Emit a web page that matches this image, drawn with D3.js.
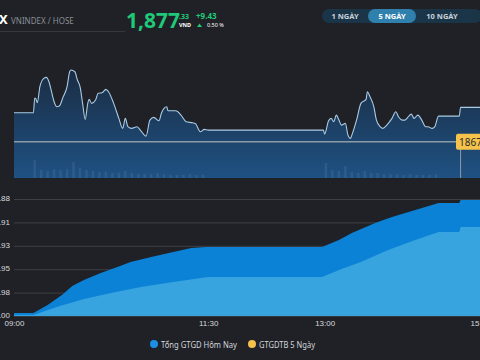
<!DOCTYPE html>
<html>
<head>
<meta charset="utf-8">
<script src="https://cdn.jsdelivr.net/npm/d3@7"></script>
<style>
  html, body { margin: 0; padding: 0; background: #1f2126; }
  svg { display: block; font-family: "Noto Sans", "Open Sans", sans-serif; }
</style>
</head>
<body>
<div id="chart"></div>
<script>
// price line (top chart)
var priceTimes = ["09:00","09:15","09:16","09:17","09:18","09:20","09:23","09:25","09:27","09:29","09:31","09:33","09:35","09:38","09:41","09:43","09:44","09:47","09:49","09:51","09:53","09:55","09:57","09:58","10:00","10:03","10:05","10:08","10:11","10:13","10:17","10:21","10:24","10:26","10:28","10:31","10:35","10:38","10:42","10:45","10:48","10:52","10:54","10:58","10:59","11:05","11:09","11:13","11:18","11:20","11:24","11:27","11:30","12:59","13:00","13:03","13:05","13:07","13:09","13:11","13:13","13:16","13:18","13:20","13:21","13:25","13:28","13:32","13:33","13:35","13:38","13:40","13:43","13:45","13:48","13:52","13:55","13:57","14:00","14:02","14:05","14:07","14:09","14:12","14:15","14:18","14:20","14:23","14:25","14:28","14:44","14:45","15:00"];
var priceValues = [1875.85,1875.85,1879.88,1879.60,1878.59,1882.98,1885.28,1885.55,1884.35,1881.61,1878.86,1877.49,1877.69,1880.23,1882.98,1887.09,1887.55,1887.09,1884.81,1882.98,1878.43,1874.04,1878.43,1879.52,1878.43,1879.33,1881.17,1881.33,1882.26,1881.61,1878.43,1874.31,1871.57,1874.31,1872.07,1871.57,1872.01,1870.92,1869.46,1873.85,1874.59,1873.66,1875.85,1877.49,1876.40,1876.40,1875.22,1873.38,1873.11,1872.94,1870.64,1871.30,1871.11,1871.11,1870.01,1873.66,1874.31,1873.38,1875.22,1873.85,1872.48,1872.94,1869.74,1868.83,1869.74,1874.31,1878.43,1879.52,1881.61,1880.23,1877.49,1873.85,1872.01,1871.57,1872.48,1874.31,1876.12,1874.75,1873.85,1873.85,1874.94,1875.49,1874.31,1875.22,1873.85,1872.01,1872.01,1871.57,1872.01,1874.94,1874.94,1877.33,1877.33];
var refPrice = 1867.9;

// volume bars (5 minute bins)
var volTimes = ["09:15","09:20","09:25","09:30","09:35","09:40","09:45","09:50","09:55","10:00","10:05","10:10","10:15","10:20","10:25","10:30","10:35","10:40","10:45","10:50","10:55","11:00","11:05","11:10","11:15","11:20","11:25","13:00","13:05","13:10","13:15","13:20","13:25","13:30","13:35","13:40","13:45","13:50","13:55","14:00","14:05","14:10","14:15","14:20","14:25"];
var volValues = [18,8,7,9,8,9,16,10,8,7,6,6,5,5,7,5,4,4,4,5,4,3,3,3,4,3,3,15,8,7,12,6,5,7,5,5,4,4,4,3,4,3,3,3,4];

// cumulative trading value (bottom chart), in grid units
var todayTimes = ["09:00","09:15","09:26","09:37","09:45","09:54","10:07","10:22","10:30","10:46","11:03","11:17","11:28","11:30","12:58","13:11","13:21","13:39","13:52","14:10","14:28","14:44","14:45","15:00"];
var todayValues = [0.13,0.13,0.47,0.90,1.28,1.54,1.84,2.14,2.31,2.52,2.74,2.91,2.95,2.95,2.95,3.25,3.55,3.97,4.23,4.53,4.83,4.83,4.96,4.96];
var avgTimes = ["09:00","09:15","09:33","09:54","10:15","10:38","11:03","11:30","12:58","13:13","13:28","13:49","14:10","14:28","14:44","14:45","15:00"];
var avgValues = [0.04,0.04,0.38,0.73,0.98,1.24,1.45,1.67,1.67,2.01,2.31,2.82,3.25,3.59,3.59,3.80,3.80];

var yTickValues = [0, 1, 2, 3, 4, 5];
var yTickLabels = [".00", ".98", ".95", ".93", ".91", ".88"];
var xTickLabels = ["09:00", "11:30", "13:00", "15:00"];

var rangeButtons = ["1 NGÀY", "5 NGÀY", "10 NGÀY"];
var legendNames = ["Tổng GTGD Hôm Nay", "GTGDTB 5 Ngày"];
var legendColors = ["#1a8fe3", "#f4bf4f"];

var W = 480, H = 360;
var parse = d3.timeParse("%H:%M");

var svg = d3.select("#chart").append("svg")
    .attr("width", W).attr("height", H);

svg.append("rect").attr("width", W).attr("height", H).attr("fill", "#1f2126");

// ---- header ----
svg.append("text").attr("x", -1).attr("y", 24)
    .attr("fill", "#fff").style("font-size", "13px").style("font-weight", "bold").text("X");
svg.append("text").attr("x", 11).attr("y", 24)
    .attr("fill", "#8a8f98").style("font-size", "8px").text("VNINDEX / HOSE");
svg.append("line").attr("x1", 0).attr("x2", 125).attr("y1", 31.5).attr("y2", 31.5)
    .attr("stroke", "#34373d").attr("stroke-width", 1);

var green = "#20c979";
svg.append("text").attr("x", 126).attr("y", 28)
    .attr("fill", green).style("font-size", "21px").style("font-weight", "bold").text("1,877");
svg.append("text").attr("x", 179).attr("y", 19)
    .attr("fill", green).style("font-size", "7px").style("font-weight", "bold").text(".33");
svg.append("text").attr("x", 179).attr("y", 27)
    .attr("fill", "#fff").style("font-size", "5.5px").style("font-weight", "bold").text("VND");
svg.append("text").attr("x", 196).attr("y", 19)
    .attr("fill", green).style("font-size", "8px").style("font-weight", "bold").text("+9.43");
svg.append("path").attr("d", "M197,27 L199.5,23.5 L202,27 Z").attr("fill", green);
svg.append("text").attr("x", 207).attr("y", 27)
    .attr("fill", "#fff").style("font-size", "5.5px").text("0.50 %");

// range buttons
svg.append("rect").attr("x", 322).attr("y", 9).attr("width", 160).attr("height", 14)
    .attr("rx", 7).attr("fill", "#1b3548");
var btnX = d3.scalePoint().domain(rangeButtons).range([345, 442]);
svg.append("rect").attr("x", 368).attr("y", 9).attr("width", 48).attr("height", 14)
    .attr("rx", 7).attr("fill", "#2f80ad");
svg.selectAll("text.btn").data(rangeButtons).enter().append("text")
    .attr("class", "btn")
    .attr("x", d => d === "5 NGÀY" ? 392 : btnX(d))
    .attr("y", 19)
    .attr("text-anchor", "middle")
    .attr("fill", d => d === "5 NGÀY" ? "#ffffff" : "#c9d1d9")
    .style("font-size", "7.5px").style("font-weight", "bold")
    .text(d => d);

// ---- top chart: price ----
var x = d3.scaleTime().domain([parse("09:00"), parse("15:00")]).range([14, 480]);
var yP = d3.scaleLinear().domain([1858, 1894.4]).range([178, 45]);
var yV = d3.scaleLinear().domain([0, 18]).range([178, 160]);

var defs = svg.append("defs");
var grad = defs.append("linearGradient").attr("id", "pg")
    .attr("gradientUnits", "userSpaceOnUse")
    .attr("x1", 0).attr("x2", 0).attr("y1", 65).attr("y2", 178);
grad.append("stop").attr("offset", 0).attr("stop-color", "#1b2b40");
grad.append("stop").attr("offset", 0.6).attr("stop-color", "#1d4268");
grad.append("stop").attr("offset", 1).attr("stop-color", "#1f5183");

var price = priceTimes.map((t, i) => ({t: parse(t), v: priceValues[i]}));

svg.append("path").datum(price)
    .attr("fill", "url(#pg)")
    .attr("d", d3.area().x(d => x(d.t)).y0(178).y1(d => yP(d.v)));

svg.selectAll("rect.vol").data(volTimes).enter().append("rect")
    .attr("class", "vol")
    .attr("x", d => x(parse(d)))
    .attr("width", 2.5)
    .attr("y", (d, i) => yV(volValues[i]))
    .attr("height", (d, i) => 178 - yV(volValues[i]))
    .attr("fill", "#7fa3c8").attr("opacity", 0.16);

svg.append("line")
    .attr("x1", 14).attr("x2", 458)
    .attr("y1", yP(refPrice)).attr("y2", yP(refPrice))
    .attr("stroke", "#8d9ba6").attr("stroke-width", 1.5);

svg.append("path").datum(price)
    .attr("fill", "none").attr("stroke", "#a9cbe6").attr("stroke-width", 1.1)
    .attr("stroke-linejoin", "round")
    .attr("d", d3.line().curve(d3.curveMonotoneX).x(d => x(d.t)).y(d => yP(d.v)));

svg.append("line")
    .attr("x1", x(parse("14:45"))).attr("x2", x(parse("14:45")))
    .attr("y1", yP(refPrice)).attr("y2", 178)
    .attr("stroke", "#8d9ba6").attr("stroke-width", 1);

svg.append("rect")
    .attr("x", 456).attr("y", yP(refPrice) - 8).attr("width", 28).attr("height", 16)
    .attr("rx", 2).attr("fill", "#f5c34b");
svg.append("text")
    .attr("x", 459).attr("y", yP(refPrice) + 4)
    .attr("fill", "#2a2a2a").style("font-size", "10px")
    .text(d3.format("d")(Math.floor(refPrice)));

// ---- bottom chart: cumulative value ----
var yB = d3.scaleLinear().domain([0, 5]).range([316, 199]);

svg.append("g")
    .attr("transform", "translate(14,0)")
    .call(d3.axisLeft(yB).tickValues(yTickValues).tickSize(-466)
        .tickFormat((d, i) => yTickLabels[i]))
    .call(g => g.select(".domain").remove())
    .call(g => g.selectAll(".tick line").attr("stroke", "#3d4046"))
    .call(g => g.selectAll(".tick text").attr("x", -4).attr("dy", "0.2em").attr("fill", "#d8dadd")
        .style("font-size", "8px").style("font-family", "Liberation Sans, Arial, sans-serif"));

var today = todayTimes.map((t, i) => ({t: parse(t), v: todayValues[i]}));
var avg = avgTimes.map((t, i) => ({t: parse(t), v: avgValues[i]}));

var areaB = d3.area().x(d => x(d.t)).y0(yB(0)).y1(d => yB(d.v));
svg.append("path").datum(today).attr("fill", "#0b82d6").attr("d", areaB);
svg.append("path").datum(avg).attr("fill", "#37a4e0").attr("d", areaB);

svg.append("line").attr("x1", 14).attr("x2", 480).attr("y1", 316.5).attr("y2", 316.5)
    .attr("stroke", "#33363b");

svg.append("g")
    .attr("transform", "translate(0,316)")
    .call(d3.axisBottom(x).tickValues(xTickLabels.map(parse)).tickSize(0)
        .tickFormat(d3.timeFormat("%H:%M")))
    .call(g => g.select(".domain").remove())
    .call(g => g.selectAll(".tick text").attr("dy", "0.3em").attr("y", 8).attr("fill", "#d8dadd")
        .style("font-size", "8px").style("font-family", "Liberation Sans, Arial, sans-serif"));

// legend
var legend = svg.append("g");
var lx = [154, 252];
var lw = [76, 56];
legendNames.forEach(function(name, i) {
  legend.append("circle").attr("cx", lx[i]).attr("cy", 344).attr("r", 4).attr("fill", legendColors[i]);
  legend.append("text").attr("x", lx[i] + 7).attr("y", 347.5)
      .attr("fill", "#d4d7dc").style("font-size", "9.5px")
      .attr("textLength", lw[i]).attr("lengthAdjust", "spacingAndGlyphs")
      .text(name);
});
</script>
</body>
</html>
